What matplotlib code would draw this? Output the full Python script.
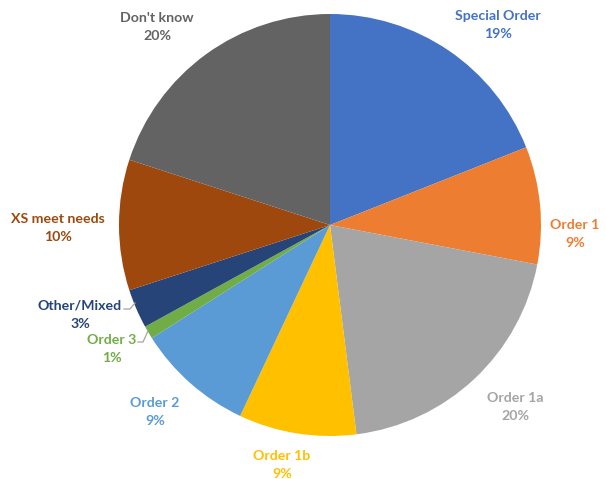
import numpy as np
import matplotlib.pyplot as plt

labels = ['Special Order', 'Order 1', 'Order 1a', 'Order 1b', 'Order 2',
          'Order 3', 'Other/Mixed', 'XS meet needs', "Don't know"]
shares = [19, 9, 20, 9, 9, 1, 3, 10, 20]
colors = ['#4472C4', '#ED7D31', '#A5A5A5', '#FFC000', '#5B9BD5',
          '#70AD47', '#264478', '#9E480E', '#636363']

# label anchor points (pixel coords, y measured from the top)
label_xy = [(498, 25), (575, 234), (515, 407), (282, 465), (155, 412),
            (112, 349), (80, 315), (58, 228), (157, 27)]

W, H = 606, 479
fig = plt.figure(figsize=(W / 100, H / 100), dpi=100)
ax = fig.add_axes([0, 0, 1, 1])

cx, cy, r = 330, H - 225, 211
ax.pie(shares, colors=colors, startangle=90, counterclock=False,
       center=(cx, cy), radius=r, frame=True)
ax.set_xlim(0, W)
ax.set_ylim(0, H)
ax.axis('off')

for lab, val, col, (lx, ly) in zip(labels, shares, colors, label_xy):
    ax.text(lx, H - ly, f'{lab}\n{val}%', color=col, ha='center', va='center',
            fontsize=10.2, fontweight='bold', family='Lato', linespacing=1.6)

# leader lines for the two thin slices
ax.plot([124, 130, 135], [H - 309, H - 309, H - 303], color='#A5A5A5', lw=0.9)
ax.plot([138, 143, 148], [H - 342, H - 342, H - 331], color='#A5A5A5', lw=0.9)

fig.savefig('out.png', dpi=100)
